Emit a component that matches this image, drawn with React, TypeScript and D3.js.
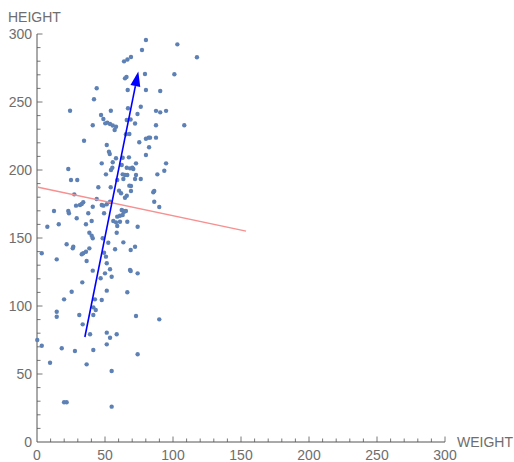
import { useEffect, useRef } from 'react';
import * as d3 from 'd3';

// [weight, height]
const points: [number, number][] = [
  [80.1, 295.6], [103.2, 292.4], [117.6, 282.9], [77.2, 288.2], [64, 279.9], [66.5, 281.3],
  [69.1, 283.1], [79.4, 270.6], [101, 270.4], [64.7, 267.4], [65.8, 268.4], [43.9, 260.1],
  [66.7, 258.8], [80.1, 258.8], [90.6, 258.1], [41.9, 252], [24.3, 243.6], [66.9, 245.4],
  [76.3, 246.5], [87.5, 243.5], [90.6, 242.4], [94.9, 243.5], [54.3, 243.6], [47.1, 240.4],
  [48.8, 237.5], [50.2, 234.3], [51.7, 234.8], [53.7, 233.8], [55.7, 232.7], [58.1, 231.8],
  [41, 232.9], [57.1, 229.4], [66, 236.8], [68.8, 237.1], [72.1, 234.2], [73.9, 241.2],
  [87.5, 232.9], [108.3, 232.9], [34.6, 221.5], [51.3, 218.4], [52.9, 213.5], [53.5, 211.8],
  [67.9, 226.5], [75.2, 220.4], [80.1, 223], [82.1, 223.8], [87.5, 223.8], [82.4, 216.7],
  [80.1, 211], [67.6, 209.3], [65.4, 226.3], [23, 200.7], [25, 192.6], [29.6, 192.6],
  [47.6, 204.9], [55.7, 205.7], [58.1, 208.6], [50.7, 196.8], [54.4, 200], [55.4, 201.7],
  [62.3, 203.7], [63, 209], [64.7, 196.3], [66.4, 196.3], [59, 192.6], [66, 201.7],
  [45.1, 187.3], [54.2, 187.3], [60.3, 184.8], [61.8, 182.9], [27.4, 182.1], [66, 181.1],
  [43.9, 178.7], [53.7, 176.7], [34, 176.3], [32.9, 175], [31.6, 174.3], [28.7, 173.8],
  [41, 173], [47.6, 174.3], [48.8, 173.8], [51.3, 174.8], [12.5, 169.9], [23, 169.9],
  [23.5, 168.2], [29.2, 164.5], [37.7, 168.2], [40.2, 162.5], [49.3, 168.2], [59, 165.7],
  [61, 166.4], [58.1, 161.5], [61, 162], [16, 160.1], [36, 160.1], [63.5, 169.9],
  [83.1, 223.8], [68.4, 201.2], [70.1, 201.7], [70.8, 200.7], [72.8, 204.9], [94.9, 204.9],
  [93.6, 199.5], [88.5, 196.8], [63, 196.8], [72.8, 196.3], [72.1, 193.4], [76.3, 193.4],
  [63.5, 193.4], [67.9, 188.5], [69.1, 188.2], [69.1, 184.6], [86.2, 184.6], [85.5, 183.6],
  [64.7, 179.6], [86.2, 176.7], [89.9, 172.8], [62.3, 170.6], [64, 169.3], [65.4, 169.9],
  [63, 166.9], [66.4, 162], [7.6, 158.3], [59, 158.8], [56.1, 162.5], [38.5, 153.9],
  [40.2, 151.7], [41, 149.8], [48.3, 149.8], [58.6, 153.9], [52.4, 146.5], [21.8, 145.4],
  [26.7, 143.6], [26.3, 142.4], [38.5, 142.4], [36, 139.9], [34, 138.8], [32.9, 138],
  [49.3, 139.2], [50.7, 136.3], [57.4, 141.7], [3.5, 138.8], [14.5, 134.3], [36.5, 133.1],
  [51.3, 131.4], [50, 124], [41, 126], [53.7, 127], [46.8, 120.4], [33.3, 117.4],
  [54.9, 121.5], [51.3, 111.3], [25.5, 110.5], [42.6, 104.9], [47.6, 104.4], [19.9, 104.9],
  [41.4, 99], [43.2, 97.1], [14.5, 95.8], [14.5, 92.1], [31.1, 93.4], [68.4, 126.5],
  [66.4, 110.1], [74, 158.3], [63.5, 146.8], [72.1, 143.6], [68.9, 141.2], [68.9, 125.7],
  [74, 124], [72.8, 92.6], [89.9, 90.2], [41.4, 93.4], [33.6, 86.5], [39, 79.2],
  [51.3, 80.4], [53.7, 76.7], [58.6, 79.2], [0.2, 75], [3.5, 70.8], [18.2, 68.9],
  [27.9, 66.9], [41.4, 67.6], [51.3, 71.8], [9.6, 58.3], [36.5, 57.1], [54.9, 52.2],
  [19.9, 29.2], [21.8, 29.2], [54.9, 26], [74, 64.5],
];

// regression-like line (red) and principal direction arrow (blue)
const fitLine: [number, number][] = [[0, 187.5], [153.7, 155]];
const arrow: [number, number][] = [[35.2, 77.2], [74.5, 272.5]];

const majorTicks = [0, 50, 100, 150, 200, 250, 300];
const minorTicks = d3.range(0, 301, 10);

export default function App() {
  const ref = useRef<SVGSVGElement>(null);

  useEffect(() => {
    if (!ref.current) return;
    const svg = d3.select(ref.current);
    svg.selectAll('*').remove();

    const x = d3.scaleLinear().domain([0, 300]).range([37, 445]);
    const y = d3.scaleLinear().domain([0, 300]).range([442, 34]);

    const axisColor = '#555';
    const labelColor = '#6e6e6e';
    const font = '"Liberation Sans", Arial, sans-serif';

    // axes lines
    svg.append('line').attr('x1', x(0)).attr('x2', x(300)).attr('y1', y(0)).attr('y2', y(0))
      .attr('stroke', axisColor).attr('stroke-width', 1);
    svg.append('line').attr('x1', x(0)).attr('x2', x(0)).attr('y1', y(0)).attr('y2', y(300))
      .attr('stroke', axisColor).attr('stroke-width', 1);

    // ticks (inward)
    const tg = svg.append('g').attr('stroke', axisColor).attr('stroke-width', 0.8);
    minorTicks.forEach(t => {
      const len = t % 50 === 0 ? 5.5 : 3.5;
      if (t > 0) {
        tg.append('line').attr('x1', x(t)).attr('x2', x(t)).attr('y1', y(0)).attr('y2', y(0) - len);
        tg.append('line').attr('x1', x(0)).attr('x2', x(0) + len).attr('y1', y(t)).attr('y2', y(t));
      }
    });

    // tick labels
    const lg = svg.append('g').attr('font-family', font).attr('font-size', 14).attr('fill', labelColor);
    majorTicks.forEach(t => {
      lg.append('text').attr('x', x(t)).attr('y', y(0) + 18).attr('text-anchor', 'middle').text(t);
      lg.append('text').attr('x', x(0) - 5).attr('y', y(t) + 5).attr('text-anchor', 'end').text(t);
    });

    svg.append('text').attr('x', 8).attr('y', 22).attr('font-family', font).attr('font-size', 14)
      .attr('fill', labelColor).text('HEIGHT');
    svg.append('text').attr('x', 457).attr('y', y(0) + 5).attr('font-family', font).attr('font-size', 14)
      .attr('fill', labelColor).text('WEIGHT');

    // points
    svg.append('g').selectAll('circle').data(points).enter().append('circle')
      .attr('cx', d => x(d[0])).attr('cy', d => y(d[1])).attr('r', 2.2)
      .attr('fill', '#5e81b5');

    // red line
    const line = d3.line<[number, number]>().x(d => x(d[0])).y(d => y(d[1]));
    svg.append('path').attr('d', line(fitLine)!).attr('stroke', '#f79090').attr('stroke-width', 1.3)
      .attr('fill', 'none');

    // blue arrow
    const [p0, p1] = arrow.map(d => [x(d[0]), y(d[1])]);
    const ang = Math.atan2(p1[1] - p0[1], p1[0] - p0[0]);
    const headLen = 15, headW = 5;
    const bx = p1[0] - headLen * Math.cos(ang), by = p1[1] - headLen * Math.sin(ang);
    svg.append('line').attr('x1', p0[0]).attr('y1', p0[1]).attr('x2', bx).attr('y2', by)
      .attr('stroke', '#0000ff').attr('stroke-width', 1.6);
    const nx = -Math.sin(ang), ny = Math.cos(ang);
    svg.append('path')
      .attr('d', `M${p1[0]},${p1[1]}L${bx + nx * headW},${by + ny * headW}L${bx - nx * headW},${by - ny * headW}Z`)
      .attr('fill', '#0000ff');
  }, []);

  return (
    <svg ref={ref} width={514} height={462}
      style={{ position: 'absolute', left: 0, top: 0, background: '#fff' }} />
  );
}
